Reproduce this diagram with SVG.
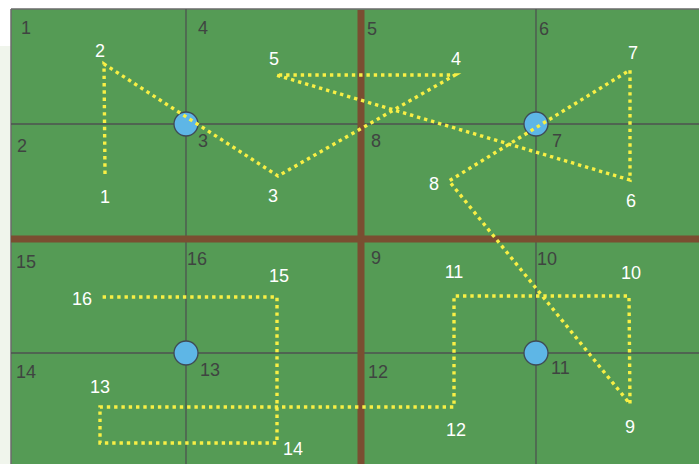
<svg xmlns="http://www.w3.org/2000/svg" width="699" height="464" viewBox="0 0 699 464">
<style>
.grid{stroke:#4d5350;stroke-width:1.3;fill:none}
.wall{stroke:#7a4e31;stroke-width:7;fill:none}
.cell{font-family:"Liberation Sans","Noto Sans",sans-serif;font-size:18px;fill:#3f4441}
.pt{font-family:"Liberation Sans","Noto Sans",sans-serif;font-size:18px;fill:#ffffff;text-anchor:middle}
.hub{fill:#5eb6e6;stroke:#3f4a55;stroke-width:1.3}
.route{fill:none;stroke:#f8ef45;stroke-width:3.4;stroke-dasharray:3.4 3.9}
</style>
<rect x="0" y="0" width="699" height="464" fill="#ffffff"/>
<rect x="0" y="46" width="12" height="418" fill="#f0f5ec"/>
<rect x="11" y="9" width="688" height="455" fill="#559b55"/>
<path d="M11 9H699M11 9V464" stroke="#6b6b6b" stroke-width="1.5" fill="none"/>
<g id="grid">
<path class="grid" d="M186 9V464M536 9V464M11 124H699M11 353H699"/>
<path class="wall" d="M361 10V464M11 239H699"/>
</g>
<g id="cell-labels">
<text class="cell" x="21" y="34">1</text>
<text class="cell" x="198" y="34">4</text>
<text class="cell" x="367" y="35">5</text>
<text class="cell" x="539" y="35">6</text>
<text class="cell" x="17" y="152">2</text>
<text class="cell" x="198" y="147">3</text>
<text class="cell" x="371" y="147">8</text>
<text class="cell" x="552" y="147">7</text>
<text class="cell" x="16" y="268">15</text>
<text class="cell" x="187" y="265">16</text>
<text class="cell" x="371" y="264">9</text>
<text class="cell" x="537" y="265">10</text>
<text class="cell" x="16" y="378">14</text>
<text class="cell" x="200" y="376">13</text>
<text class="cell" x="368" y="378">12</text>
<text class="cell" x="551" y="374">11</text>
</g>
<g id="hub-1"><circle class="hub" cx="186" cy="124" r="12"/></g>
<g id="hub-2"><circle class="hub" cx="536" cy="124" r="12"/></g>
<g id="hub-3"><circle class="hub" cx="186" cy="353" r="12"/></g>
<g id="hub-4"><circle class="hub" cx="536" cy="353" r="12"/></g>
<g id="connectors">
<path class="route" d="M105 174L104 64L278 176L455 75L276 75L630 180L630 70L449 181L630 404L629 296L454 296L454 407L100 407L100 443L277 443L277 297L100 297"/>
</g>
<g id="p1"><text class="pt" x="105" y="203">1</text></g>
<g id="p2"><text class="pt" x="100" y="57">2</text></g>
<g id="p3"><text class="pt" x="273" y="202">3</text></g>
<g id="p4"><text class="pt" x="456" y="65">4</text></g>
<g id="p5"><text class="pt" x="274" y="65">5</text></g>
<g id="p6"><text class="pt" x="631" y="207">6</text></g>
<g id="p7"><text class="pt" x="633" y="59">7</text></g>
<g id="p8"><text class="pt" x="434" y="190">8</text></g>
<g id="p9"><text class="pt" x="630" y="433">9</text></g>
<g id="p10"><text class="pt" x="631" y="279">10</text></g>
<g id="p11"><text class="pt" x="454" y="278">11</text></g>
<g id="p12"><text class="pt" x="456" y="436">12</text></g>
<g id="p13"><text class="pt" x="100" y="393">13</text></g>
<g id="p14"><text class="pt" x="293" y="455">14</text></g>
<g id="p15"><text class="pt" x="279" y="282">15</text></g>
<g id="p16"><text class="pt" x="82" y="305">16</text></g>
</svg>
